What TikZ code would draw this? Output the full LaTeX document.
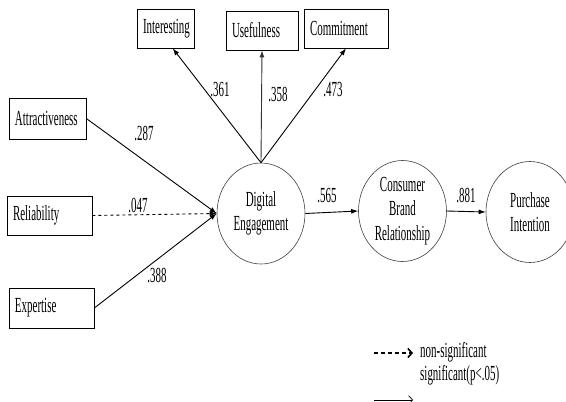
\documentclass[tikz,border=0pt]{standalone}
\usepackage{fontspec}
\setmainfont{Liberation Serif}[FakeStretch=0.51]
\usepackage{tikz}
\usetikzlibrary{positioning}
\usetikzlibrary{shapes.geometric}
\usetikzlibrary{arrows.meta}

\begin{document}
\begin{tikzpicture}[x=1pt, y=-1pt,
		font=\fontsize{21.5}{24.5}\selectfont,
		measure/.style={draw, line width=0.7pt, inner xsep=6pt, inner ysep=0pt, align=left, minimum height=39pt},
		latent/.style={draw=black!75, line width=0.6pt, ellipse, inner sep=0pt, align=center, minimum width=88pt, minimum height=101pt},
		lnk/.style={line width=0.9pt, -{Latex[length=7pt,width=5pt]}},
		coef/.style={inner sep=0pt}]
	\useasboundingbox (0,0) rectangle (566,402);
	% indicators
	\node[measure, text width=45pt] (int) at (165.5,28.5) {Interesting};
	\node[measure, text width=60pt] (use) at (262,30.5) {Usefulness};
	\node[measure, text width=72pt] (com) at (346,28.5) {Commitment};
	% antecedents
	\node[measure, text width=65pt, minimum height=41pt] (att) at (47.5,118.5) {Attractiveness};
	\node[measure, text width=73pt] (rel) at (49.5,215.5) {Reliability};
	\node[measure, text width=73pt, minimum height=40pt] (exp) at (51.5,308) {Expertise};
	% constructs
	\node[latent] (dig) at (261,213.5) {Digital\\Engagement};
	\node[latent] (cbr) at (402.5,211) {Consumer\\Brand\\Relationship};
	\node[latent] (pur) at (530,212) {Purchase\\Intention};
	% paths
	\draw[lnk] (att.east) -- (dig.west);
	\draw[lnk, dashed] (rel.east) -- (dig.west);
	\draw[lnk] (exp.east) -- (dig.west);
	\draw[lnk] (dig.north) -- (int.-70);
	\draw[lnk, black!80] (dig.north) -- (use.south);
	\draw[lnk] (dig.north) -- (com.south);
	\draw[lnk] (dig.east) -- (cbr.west);
	\draw[lnk] (cbr.east) -- (pur.west);
	% coefficients
	\node[coef] (c287) at (144,134) {.287};
	\node[coef] (c047) at (138,205) {.047};
	\node[coef] (c388) at (157,275) {.388};
	\node[coef] (c361) at (220,90) {.361};
	\node[coef] (c358) at (278,95) {.358};
	\node[coef] (c473) at (333,90) {.473};
	\node[coef] (c565) at (327,196) {.565};
	\node[coef] (c881) at (466,196) {.881};
	% legend
	\coordinate (d0) at (374,353);
	\coordinate (d1) at (413,353);
	\coordinate (s0) at (374,400);
	\coordinate (s1) at (413,400);
	\draw[line width=1.6pt, dash pattern=on 4pt off 3pt, -{Straight Barb[length=4pt,width=9pt]}] (d0) -- (d1);
	\draw[line width=0.7pt, -{Straight Barb[length=4pt,width=9pt]}] (s0) -- (s1);
	\node[anchor=west, inner sep=0pt] (nsig) at (420,352) {non-significant};
	\node[anchor=west, inner sep=0pt] (sig) at (420,375) {significant(p<.05)};
\end{tikzpicture}
\end{document}
